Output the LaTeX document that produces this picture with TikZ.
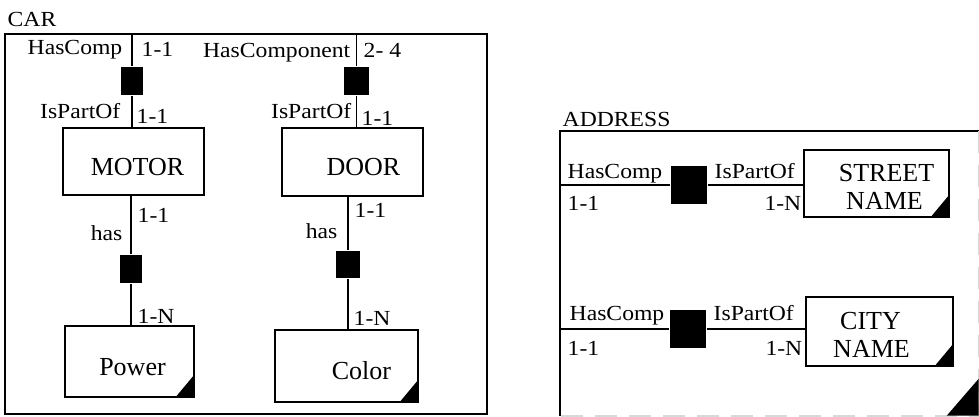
\documentclass[tikz,border=0pt]{standalone}
\usepackage{fontspec}
\setmainfont{Liberation Serif}
\newfontfamily\lblfont[FakeStretch=1.1]{Liberation Serif}
\usetikzlibrary{positioning}

% shift the glyphs of an entity name sideways inside its box
\newcommand{\nudge}[2]{\hspace*{#1}#2\hspace*{-#1}}

\begin{document}
\begin{tikzpicture}[x=1pt,y=-1pt,line width=1.4pt,
  every node/.style={inner sep=0pt},
  frame/.style={line width=1.9pt},
  entity/.style={draw,fill=white,line width=1.9pt,font=\fontsize{26}{28}\selectfont,
    align=center,text height=27pt,text depth=0pt},
  rel/.style={fill=black,minimum width=22pt,minimum height=28pt},
  lbl/.style={font=\lblfont\fontsize{21.5}{21.5}\selectfont}]

\useasboundingbox (0,0) rectangle (979,417);

% Objeto compuesto CAR
\node[draw,frame,minimum width=482pt,minimum height=380pt] (car) at (246,224) {};
\node[lbl,anchor=base west] (carname) at (7,27) {CAR};

\node[entity,minimum width=141pt,minimum height=67pt] (motor) at (133.5,161.5) {\nudge{4pt}{MOTOR}};
\node[entity,minimum width=141pt,minimum height=68pt] (door) at (352.5,162) {\nudge{11pt}{DOOR}};
\node[entity,minimum width=129pt,minimum height=71pt] (power) at (129.5,361.5) {\nudge{3pt}{Power}};
\node[entity,minimum width=143pt,minimum height=72pt] (color) at (346.5,366) {\nudge{15pt}{Color}};

% Relaciones (cuadros negros)
\node[rel] (motorrel) at (132,81) {};
\node[rel,minimum width=25pt] (doorrel) at (356.5,81) {};
\node[rel] (powerrel) at (131,269) {};
\node[rel,minimum width=24pt,minimum height=27pt] (colorrel) at (348,264.5) {};

\draw (motorrel |- car.north) -- (motorrel) -- (motorrel |- motor.north);
\draw (doorrel |- car.north) -- (doorrel) -- (doorrel |- door.north);
\draw (motor.south -| powerrel) -- (powerrel) -- (powerrel |- power.north);
\draw (colorrel |- door.south) -- (colorrel) -- (colorrel |- color.north);

% Roles y cardinalidades
\node[lbl,anchor=base east] (l1) at (123,55) {HasComp};
\node[lbl,anchor=base west] (c1) at (141,57) {1-1};
\node[lbl,anchor=base east] (l2) at (121,118) {IsPartOf};
\node[lbl,anchor=base west] (c2) at (136,124) {1-1};
\node[lbl,anchor=base west] (c3) at (137,222) {1-1};
\node[lbl,anchor=base east] (l3) at (123,240) {has};
\node[lbl,anchor=base west] (c4) at (137,323) {1-N};

\node[lbl,anchor=base east] (l4) at (351,58) {HasComponent};
\node[lbl,anchor=base west] (c5) at (363,58) {2- 4};
\node[lbl,anchor=base east] (l5) at (352,118) {IsPartOf};
\node[lbl,anchor=base west] (c6) at (361,125) {1-1};
\node[lbl,anchor=base west] (c7) at (354,217) {1-1};
\node[lbl,anchor=base east] (l6) at (338,238) {has};
\node[lbl,anchor=base west] (c8) at (353,325) {1-N};

% Objeto compuesto ADDRESS
\node[minimum width=417pt,minimum height=283pt] (addr) at (769.5,273.5) {};
\draw[frame] (addr.south west) -- (addr.north west) -- (addr.north east);
\draw[frame,gray!30,dash pattern=on 22pt off 12pt] (addr.north east) -- (addr.south east) -- (addr.south west);
\fill (addr.south east) -- ++(-32,0) -- ++(32,-37) -- cycle;
\node[lbl,anchor=base west] (addrname) at (562,127) {ADDRESS};

\node[entity,minimum width=145pt,minimum height=67pt,text height=51pt] (street) at (876.5,183.5)
  {\nudge{10pt}{STREET}\\\nudge{8pt}{NAME}};
\node[entity,minimum width=147pt,minimum height=69pt,text height=51pt] (city) at (879.5,331.5)
  {\nudge{-9pt}{CITY}\\\nudge{-8pt}{NAME}};

\node[rel,minimum width=36pt,minimum height=38pt] (streetrel) at (689,185) {};
\node[rel,minimum width=36pt,minimum height=38pt] (cityrel) at (688,329) {};

\draw (addr.west |- streetrel) -- (streetrel) -- (street.west |- streetrel);
\draw (addr.west |- cityrel) -- (cityrel) -- (city.west |- cityrel);

\node[lbl,anchor=base west] (l7) at (567,178) {HasComp};
\node[lbl,anchor=base west] (c9) at (567,210) {1-1};
\node[lbl,anchor=base west] (l8) at (714,178) {IsPartOf};
\node[lbl,anchor=base east] (c10) at (802,210) {1-N};
\node[lbl,anchor=base west] (l9) at (569,320) {HasComp};
\node[lbl,anchor=base west] (c11) at (567,355) {1-1};
\node[lbl,anchor=base west] (l10) at (713,320) {IsPartOf};
\node[lbl,anchor=base east] (c12) at (803,355) {1-N};

% esquinas negras de las entidades
\foreach \e in {power,color,street,city}
  \fill (\e.south east) -- ++(-20,0) -- ++(20,-24) -- cycle;

\end{tikzpicture}
\end{document}
